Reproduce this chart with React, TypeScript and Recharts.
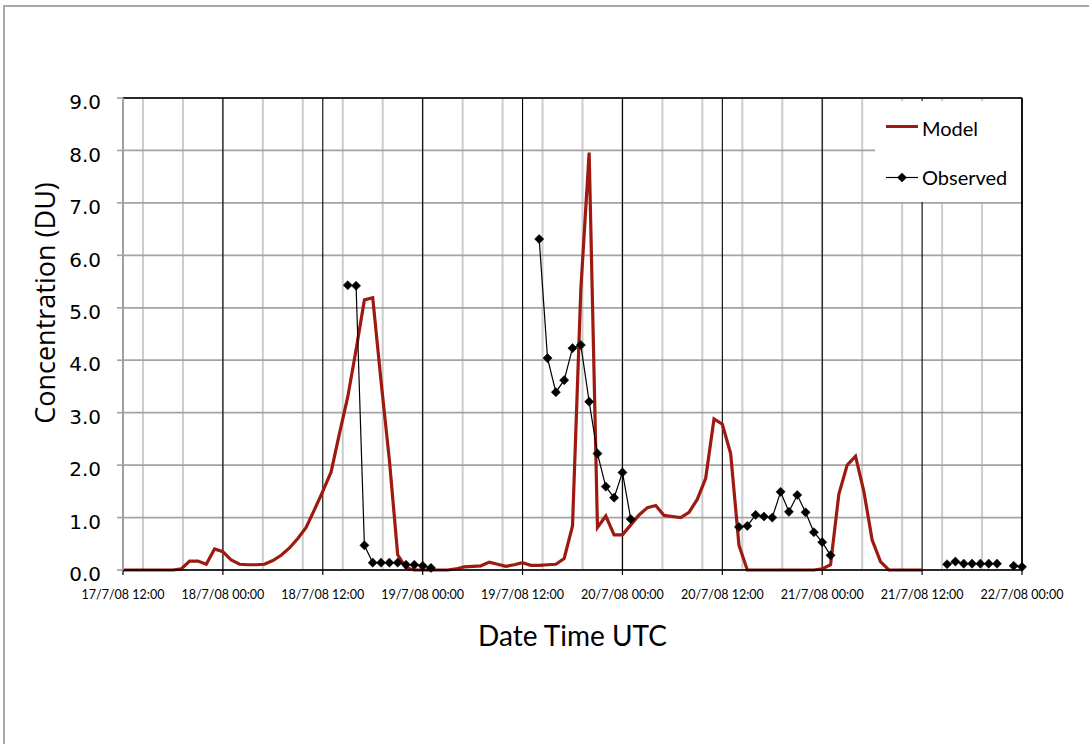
import React from 'react';
import { LineChart, Line, XAxis, YAxis, CartesianGrid, ReferenceLine, Legend, Label } from 'recharts';

// Hours since 17/7/08 12:00 UTC
const xTickValues = [0, 12, 24, 36, 48, 60, 72, 84, 96, 108];
const xTickLabels = [
  '17/7/08 12:00', '18/7/08 00:00', '18/7/08 12:00', '19/7/08 00:00', '19/7/08 12:00',
  '20/7/08 00:00', '20/7/08 12:00', '21/7/08 00:00', '21/7/08 12:00', '22/7/08 00:00',
];
const majorGridHours = [12, 24, 36, 48, 60, 72, 84, 96];
const minorGridHours = [
  0, 2.4, 4.8, 7.2, 9.6, 12, 14.4, 16.8, 19.2, 21.6, 24, 26.4, 28.8, 31.2, 33.6, 36, 38.4, 40.8,
  43.2, 45.6, 48, 50.4, 52.8, 55.2, 57.6, 60, 62.4, 64.8, 67.2, 69.6, 72, 74.4, 76.8, 79.2, 81.6,
  84, 86.4, 88.8, 91.2, 93.6, 96, 98.4, 100.8, 103.2, 105.6, 108,
];
const yTicks = [0, 1, 2, 3, 4, 5, 6, 7, 8, 9];

// Model: hourly values from hour 0 to hour 96
const modelValues = [
  0, 0, 0, 0, 0, 0, 0, 0.02, 0.17, 0.17,
  0.11, 0.40, 0.35, 0.19, 0.11, 0.10, 0.10, 0.11, 0.18, 0.28,
  0.42, 0.60, 0.81, 1.15, 1.50, 1.87, 2.60, 3.30, 4.20, 5.15,
  5.19, 3.60, 2.10, 0.29, 0.04, 0, 0, 0, 0, 0,
  0.02, 0.06, 0.07, 0.08, 0.15, 0.11, 0.07, 0.10, 0.14, 0.09,
  0.09, 0.10, 0.11, 0.22, 0.84, 5.35, 7.96, 0.81, 1.03, 0.67,
  0.67, 0.86, 1.05, 1.19, 1.23, 1.04, 1.02, 1.00, 1.10, 1.35,
  1.75, 2.88, 2.78, 2.22, 0.47, 0, 0, 0, 0, 0,
  0, 0, 0, 0, 0.02, 0.10, 1.45, 2.00, 2.17, 1.50,
  0.57, 0.16, 0, 0, 0, 0, 0,
];

// Observed: hour and value
const obsHours = [
  27, 28, 29, 30, 31, 32, 33, 34, 35, 36, 37,
  50, 51, 52, 53, 54, 55, 56, 57, 58, 59, 60, 61,
  74, 75, 76, 77, 78, 79, 80, 81, 82, 83, 84, 85,
  99, 100, 101, 102, 103, 104, 105, 107, 108,
];
const obsValues = [
  5.43, 5.42, 0.47, 0.14, 0.14, 0.14, 0.14, 0.10, 0.10, 0.08, 0.04,
  6.31, 4.04, 3.39, 3.62, 4.23, 4.29, 3.21, 2.22, 1.59, 1.38, 1.86, 0.97,
  0.82, 0.84, 1.05, 1.02, 1.00, 1.49, 1.11, 1.43, 1.10, 0.72, 0.53, 0.28,
  0.11, 0.16, 0.12, 0.12, 0.12, 0.12, 0.12, 0.08, 0.06,
];

const MODEL_COLOR = '#9E1A10';

const data = Array.from({ length: 109 }, (_, h) => {
  const oi = obsHours.indexOf(h);
  return {
    h,
    model: h < modelValues.length ? modelValues[h] : null,
    obs: oi >= 0 ? obsValues[oi] : null,
  };
});

const Diamond = (props: any) => {
  const { cx, cy } = props;
  if (cx == null || cy == null || props.value == null) return null;
  const r = 4.6;
  return (
    <polygon
      points={`${cx},${cy - r} ${cx + r},${cy} ${cx},${cy + r} ${cx - r},${cy}`}
      fill="#000"
      stroke="#000"
      strokeWidth={0.5}
    />
  );
};

const YTick = (props: any) => {
  const { x, y, payload } = props;
  return (
    <text x={x} y={y + 4} dy="0.36em" textAnchor="end" fontFamily="DejaVu Sans" fontSize={20} fill="#000">
      {Number(payload.value).toFixed(1)}
    </text>
  );
};

const XTick = (props: any) => {
  const { x, y, payload } = props;
  const idx = xTickValues.indexOf(payload.value);
  return (
    <text x={x} y={y + 24} textAnchor="middle" fontFamily="Lato" fontSize={12.5} fill="#000">
      {idx >= 0 ? xTickLabels[idx] : ''}
    </text>
  );
};

const renderLegend = () => (
  <svg width={146} height={101} style={{ display: 'block', background: '#fff' }}>
    <line x1={11} x2={43} y1={25.5} y2={25.5} stroke={MODEL_COLOR} strokeWidth={3} />
    <text x={47} y={35} fontFamily="Lato" fontSize={20} fill="#000">Model</text>
    <line x1={11} x2={43} y1={76.5} y2={76.5} stroke="#000" strokeWidth={1.2} />
    <Diamond cx={27} cy={76.5} value={1} />
    <text x={47} y={84} fontFamily="Lato" fontSize={20} fill="#000">Observed</text>
  </svg>
);

export default function App() {
  return (
    <div style={{ position: 'absolute', left: 0, top: 0, width: 1089, height: 744, background: '#fff' }}>
      <div
        style={{
          position: 'absolute',
          left: 3,
          top: 5,
          width: 1086,
          height: 739,
          borderTop: '2px solid #a8a8a8',
          borderLeft: '2px solid #a8a8a8',
          boxSizing: 'border-box',
        }}
      />
      <div style={{ position: 'absolute', left: 0, top: 0 }}>
        <LineChart width={1089} height={744} data={data} margin={{ top: 98, right: 67, bottom: 0, left: 0 }}>
          <XAxis xAxisId="minor" dataKey="h" type="number" domain={[0, 108]} ticks={minorGridHours} hide />
          <XAxis xAxisId="major" dataKey="h" type="number" domain={[0, 108]} ticks={majorGridHours} hide />
          <CartesianGrid xAxisId="minor" horizontal={false} stroke="#cccccc" strokeWidth={2} />
          <CartesianGrid vertical={false} stroke="#a3a3a3" strokeWidth={1.8} />
          <CartesianGrid xAxisId="major" horizontal={false} stroke="#000" strokeWidth={1.1} />
          <XAxis
            dataKey="h"
            type="number"
            domain={[0, 108]}
            ticks={xTickValues}
            height={174}
            tick={<XTick />}
            tickSize={5}
            tickMargin={0}
            axisLine={{ stroke: '#000', strokeWidth: 1.6 }}
            tickLine={{ stroke: '#000', strokeWidth: 1.2 }}
            interval={0}
          >
            <Label
              content={(p: any) => {
                const vb = p.viewBox || { x: 123, width: 899, y: 570 };
                return (
                  <text x={vb.x + vb.width / 2} y={vb.y + 76} textAnchor="middle" fontFamily="Lato" fontSize={28} fill="#000">
                    Date Time UTC
                  </text>
                );
              }}
            />
          </XAxis>
          <YAxis
            type="number"
            domain={[0, 9]}
            ticks={yTicks}
            width={123}
            tick={<YTick />}
            tickSize={6}
            tickMargin={16}
            interval={0}
            axisLine={{ stroke: '#a0a0a0', strokeWidth: 2 }}
            tickLine={{ stroke: '#a0a0a0', strokeWidth: 1.6 }}
          >
            <Label
              content={(p: any) => {
                const vb = p.viewBox || { x: 0, y: 98 };
                const cx = vb.x + 55;
                const cy = vb.y + 205;
                return (
                  <text
                    x={cx}
                    y={cy}
                    transform={`rotate(-90, ${cx}, ${cy})`}
                    textAnchor="middle"
                    fontFamily="Open Sans"
                    fontSize={27}
                    fill="#000"
                  >
                    Concentration (DU)
                  </text>
                );
              }}
            />
          </YAxis>
          <ReferenceLine y={9} stroke="#000" strokeWidth={1.6} />
          <ReferenceLine x={108} stroke="#000" strokeWidth={1.6} />
          <Line
            dataKey="model"
            stroke={MODEL_COLOR}
            strokeWidth={3.2}
            dot={false}
            activeDot={false}
            isAnimationActive={false}
            strokeLinejoin="miter"
          />
          <Line
            dataKey="obs"
            stroke="#000"
            strokeWidth={1.2}
            dot={<Diamond />}
            activeDot={false}
            isAnimationActive={false}
          />
          <Legend
            layout="horizontal"
            verticalAlign="middle"
            align="center"
            content={renderLegend}
            wrapperStyle={{ left: 875, top: 101, width: 146, height: 101, background: '#fff' }}
          />
        </LineChart>
      </div>
    </div>
  );
}
